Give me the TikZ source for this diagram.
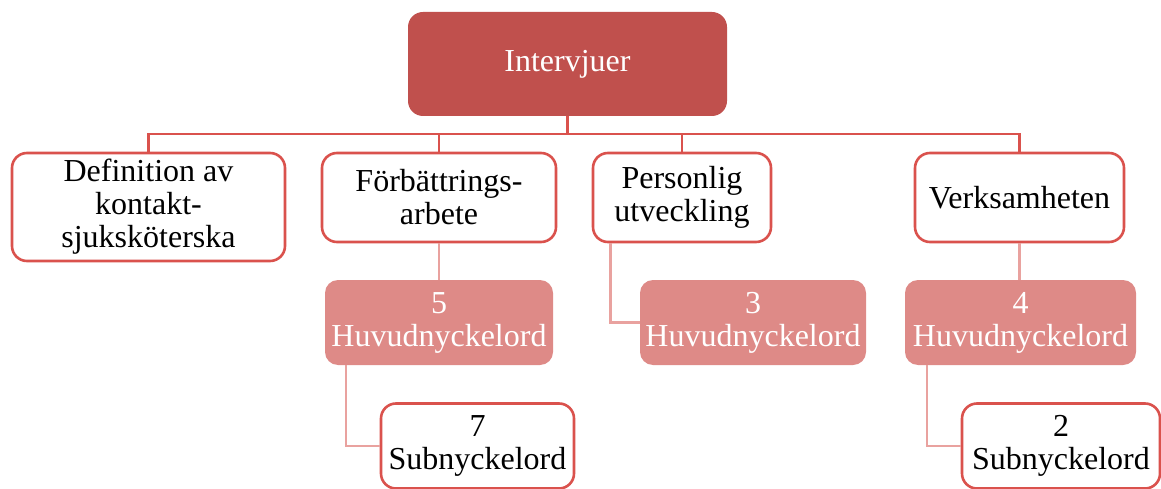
\documentclass[tikz,border=0pt]{standalone}
\usepackage{fontspec}
\setmainfont{Liberation Serif}
\usetikzlibrary{calc}
\definecolor{topred}{RGB}{192,80,77}
\definecolor{edgered}{RGB}{218,82,77}
\definecolor{pinkfill}{RGB}{222,138,135}
\definecolor{pinkline}{RGB}{233,162,159}
\tikzset{
  base/.style={rectangle, rounded corners=15pt, align=center, inner sep=2pt,
    font=\fontsize{32}{33}\selectfont},
  rootbox/.style={base, fill=topred, text=white},
  whitebox/.style={base, draw=edgered, line width=2.6pt, fill=white, text=black},
  pinkbox/.style={base, fill=pinkfill, text=white, rounded corners=13pt},
  conn/.style={draw=edgered, line width=2.6pt},
  subconn/.style={draw=pinkline, line width=2.6pt}
}
\begin{document}
\begin{tikzpicture}[x=1pt,y=-1pt]
\useasboundingbox (0,0) rectangle (1161,489);

% root
\node[rootbox, minimum width=319pt, minimum height=104pt] (root) at (567.5,64) {Intervjuer};

% second level
\node[whitebox, minimum width=273pt, minimum height=108pt] (def) at (148.5,207)
  {Definition av\\kontakt-\\sjuksköterska};
\node[whitebox, minimum width=234pt, minimum height=89pt] (forb) at (439,197.5)
  {Förbättrings-\\arbete};
\node[whitebox, minimum width=178pt, minimum height=89pt] (pers) at (682,197.5)
  {Personlig\\utveckling};
\node[whitebox, minimum width=209pt, minimum height=89pt] (verk) at (1019.5,197.5)
  {Verksamheten};

% keyword counts
\node[pinkbox, minimum width=228pt, minimum height=85pt] (h5) at (439,322.5)
  {5\\Huvudnyckelord};
\node[pinkbox, minimum width=226pt, minimum height=85pt] (h3) at (753,322.5)
  {3\\Huvudnyckelord};
\node[pinkbox, minimum width=231pt, minimum height=85pt] (h4) at (1020.5,322.5)
  {4\\Huvudnyckelord};

% sub keywords
\node[whitebox, minimum width=193pt, minimum height=85pt] (s7) at (477.5,446)
  {7\\Subnyckelord};
\node[whitebox, minimum width=198pt, minimum height=85pt] (s2) at (1061,446)
  {2\\Subnyckelord};

% tree from root
\coordinate (bus) at ($(root.south)+(0,18)$);
\draw[conn] (root.south) -- (bus);
\draw[conn] (def.north) |- (bus) -| (verk.north);
\draw[conn] (forb.north) -- (forb.north |- bus);
\draw[conn] (pers.north) -- (pers.north |- bus);

% lower connectors
\draw[subconn] (forb.south) -- (h5.north);
\draw[subconn] (verk.south) -- (verk.south |- h4.north);
\draw[subconn] ($(pers.south west)+(19,0)$) |- (h3.west);
\draw[subconn] ($(h5.south west)+(21,0)$) |- (s7.west);
\draw[subconn] ($(h4.south west)+(22,0)$) |- (s2.west);
\end{tikzpicture}
\end{document}
